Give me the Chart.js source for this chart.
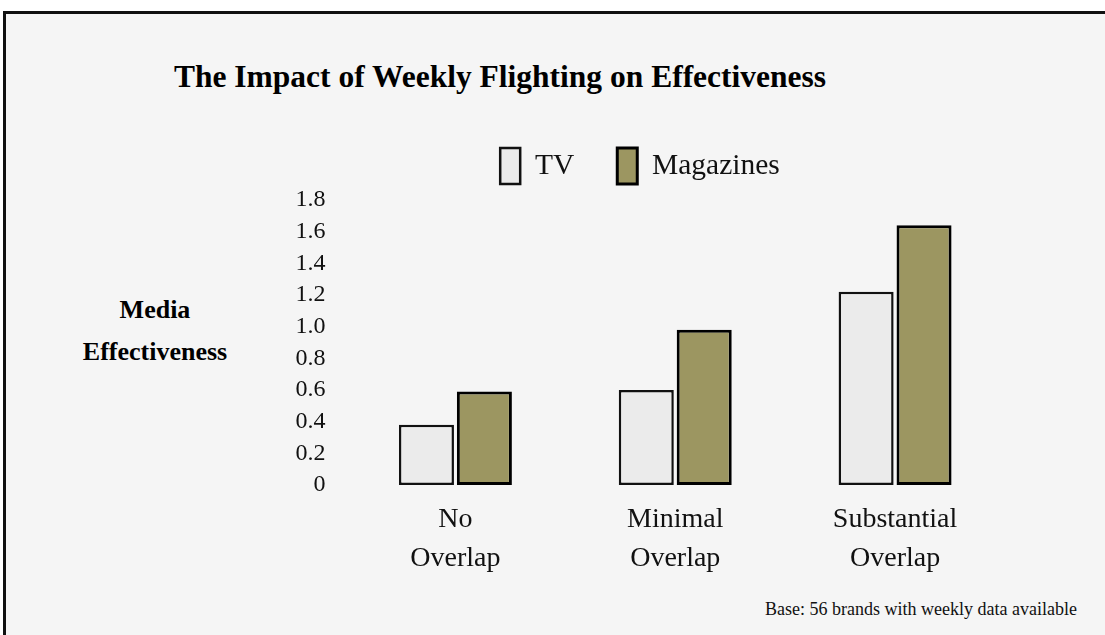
<!DOCTYPE html>
<html>
<head>
<meta charset="utf-8">
<script src="https://cdn.jsdelivr.net/npm/chart.js@4.4.1/dist/chart.umd.min.js"></script>
<style>
  html, body { margin: 0; padding: 0; background: #ffffff; overflow: hidden; }
  #stage { position: relative; width: 1105px; height: 635px; overflow: hidden; background: #ffffff; }
  #frame { position: absolute; left: 3px; top: 11px; width: 1120px; height: 640px;
           border-top: 3px solid #111; border-left: 3px solid #111; background: #f5f5f5; }
  #title { position: absolute; left: 0; top: 61px; width: 1000px; text-align: center;
           font: bold 31.5px "Liberation Serif", "Times New Roman", serif; line-height: 31px; color: #000; }
  #ytitle { position: absolute; left: 55px; top: 289px; width: 200px; text-align: center;
            font: bold 26px "Liberation Serif", "Times New Roman", serif; line-height: 42px; color: #000; }
  #footer { position: absolute; right: 28px; top: 598px; text-align: right;
            font: 18px "Liberation Serif", "Times New Roman", serif; line-height: 22px; color: #111; }
  canvas { position: absolute; left: 0; top: 0; }
</style>
</head>
<body>
<div id="stage">
  <div id="frame"></div>
  <div id="title">The Impact of Weekly Flighting on Effectiveness</div>
  <div id="ytitle">Media<br>Effectiveness</div>
  <div id="footer">Base: 56 brands with weekly data available</div>
  <canvas id="c" width="1105" height="635"></canvas>
</div>
<script>
const categories = [["No", "Overlap"], ["Minimal", "Overlap"], ["Substantial", "Overlap"]];
const seriesNames = ["TV", "Magazines"];
const tvValues = [0.38, 0.60, 1.22];
const magazineValues = [0.59, 0.98, 1.64];
const yTickLabels = ["0", "0.2", "0.4", "0.6", "0.8", "1.0", "1.2", "1.4", "1.6", "1.8"];

const serif = "'Liberation Serif', 'Times New Roman', serif";

const legendHeightPlugin = {
  id: 'legendHeight',
  beforeLayout(chart) {
    const lg = chart.legend;
    if (lg && !lg._fitWrapped) {
      const orig = lg.fit;
      lg.fit = function () { orig.call(this); this.height = 95; };
      lg._fitWrapped = true;
    }
  }
};

new Chart(document.getElementById('c'), {
  type: 'bar',
  data: {
    labels: categories,
    datasets: [
      { label: seriesNames[0], data: tvValues, backgroundColor: '#ebebeb', borderColor: '#111111',
        borderWidth: 2.5, borderSkipped: false, barPercentage: 0.95, categoryPercentage: 0.527 },
      { label: seriesNames[1], data: magazineValues, backgroundColor: '#9c9661', borderColor: '#000000',
        borderWidth: 3, borderSkipped: false, barPercentage: 0.95, categoryPercentage: 0.527 }
    ]
  },
  plugins: [legendHeightPlugin],
  options: {
    responsive: false,
    animation: false,
    layout: { padding: { left: 275, right: 100, top: 105, bottom: 0 } },
    plugins: {
      title: { display: false },
      tooltip: { enabled: false },
      legend: {
        display: true,
        position: 'top',
        labels: {
          boxWidth: 20, boxHeight: 36, padding: 43, color: '#111',
          font: { family: serif, size: 29.5 }
        }
      }
    },
    scales: {
      x: {
        grid: { display: false, drawTicks: false },
        border: { display: false },
        ticks: { color: '#111', font: { family: serif, size: 28, lineHeight: 1.4 }, padding: 15, maxRotation: 0 },
        afterFit(scale) { scale.height = 150; }
      },
      y: {
        min: 0, max: 1.8,
        grid: { display: false, drawTicks: false },
        border: { display: false },
        ticks: {
          stepSize: 0.2, padding: 20, color: '#111', autoSkip: false,
          font: { family: serif, size: 24 },
          callback: (v, i) => yTickLabels[i]
        },
        afterFit(scale) { scale.width = 70.5; }
      }
    }
  }
});
</script>
</body>
</html>
